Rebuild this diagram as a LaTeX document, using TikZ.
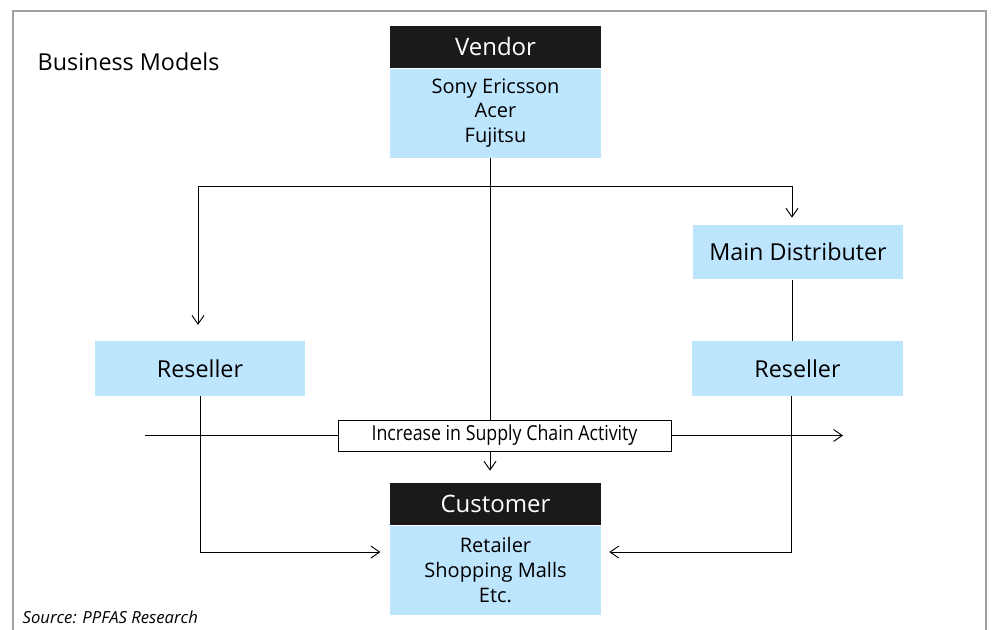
\documentclass[tikz,border=0pt]{standalone}
\usepackage{fontspec}
\setmainfont{Open Sans}
\newfontfamily\narrowfont[FakeStretch=0.86]{Open Sans}
\usetikzlibrary{arrows.meta, positioning, calc}
\definecolor{boxBlue}{HTML}{BEE5FE}
\definecolor{headBlack}{HTML}{1A1A1A}
\definecolor{frameGray}{HTML}{A0A0A0}
\tikzset{
    >={Straight Barb[length=6.5pt, width=9pt]},
    % Boxes
    head/.style={rectangle, fill=headBlack, text=white, font=\fontsize{18}{20}\selectfont,
                 minimum width=158.25pt, minimum height=31.5pt, inner sep=0pt},
    body/.style={rectangle, fill=boxBlue, font=\fontsize{15}{18.4}\selectfont, align=center,
                 minimum width=158.25pt, minimum height=66.75pt, inner sep=0pt},
    party/.style={rectangle, fill=boxBlue, font=\fontsize{17.5}{20}\selectfont,
                  minimum width=158pt, minimum height=41pt, inner sep=0pt},
    note/.style={rectangle, draw=black, line width=0.7pt, fill=white, font=\narrowfont\fontsize{15.5}{17}\selectfont,
                 minimum width=249.75pt, minimum height=23.25pt, inner sep=0pt},
    % Flow
    flow/.style={->, line width=0.7pt, black},
    link/.style={line width=0.7pt, black}
}
\begin{document}
\begin{tikzpicture}[x=0.75pt, y=-0.75pt]
\useasboundingbox (0,0) rectangle (992,630);

% frame
\draw[frameGray, line width=1pt] (13,630) -- (13,11) -- (986,11) -- (986,630);

% titles
\node[anchor=west, font=\fontsize{17.5}{20}\selectfont] (title) at (33,62) {Business Models};
\node[anchor=west, font=\itshape\fontsize{12.5}{14}\selectfont] (source) at (18,617) {Source: PPFAS Research};

% vendor and customer
\node[head] (vhead) at (495.5,47) {Vendor};
\node[body, below=0pt of vhead] (vbody) {Sony Ericsson\\Acer\\Fujitsu};
\node[head] (chead) at (495.5,504) {Customer};
\node[body, below=0pt of chead] (cbody) {Retailer\\Shopping Malls\\Etc.};

% intermediaries
\node[party] (mdist) at (798,252) {Main Distributer};
\node[party] (rres) at (797.5,368.5) {Reseller};
\node[party] (lres) at (200,368.5) {Reseller};

% channels
\coordinate (split) at (490,186);
\draw[link] (split |- vbody.south) -- (split);
\draw[flow, shorten >=12pt] (split) -| ([xshift=-1.5pt]lres.north);
\draw[flow, shorten >=5pt] (split) -| ([xshift=-4.5pt]mdist.north);
\draw[flow, shorten >=9pt] (split) -- (split |- chead.north);
\draw[link] ([xshift=-4.5pt]mdist.south) -- ([xshift=-4.5pt]mdist.south |- rres.north);
\draw[flow, shorten >=7pt] (lres.south) |- ([yshift=13.5pt]cbody.west);
\draw[flow, shorten >=6pt] ([xshift=-4.5pt]rres.south) |- ([yshift=13.5pt]cbody.east);

% supply chain axis
\coordinate (axisstart) at (145,435.5);
\coordinate (axisend) at (843,435.5);
\draw[flow] (axisstart) -- (axisend);
\node[note] (activity) at (504.5,435.5) {Increase in Supply Chain Activity};

\end{tikzpicture}
\end{document}
